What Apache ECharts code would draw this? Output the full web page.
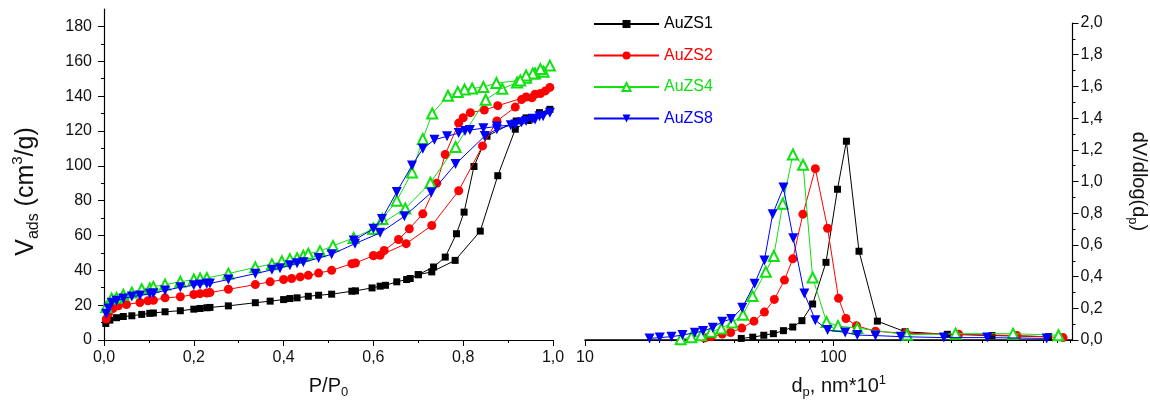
<!DOCTYPE html>
<html><head><meta charset="utf-8">
<script src="https://cdn.jsdelivr.net/npm/echarts@6/dist/echarts.min.js"></script>
<style>html,body{margin:0;padding:0;background:#fff}#c{width:1150px;height:404px}</style>
</head><body><div id="c"></div>
<script>
const seriesNames = ['AuZS1', 'AuZS2', 'AuZS4', 'AuZS8'];
const seriesColors = ['#000000', '#ff0000', '#11e011', '#0000ff'];

// Isotherms: [P/P0, Vads (cm3/g)] - adsorption branch then desorption branch
const auzs1Ads = [[0.004,9.5],[0.013,11.4],[0.028,12.8],[0.043,13.5],[0.062,13.9],[0.084,14.7],[0.102,15.3],[0.11,15.5],[0.136,16.2],[0.17,16.8],[0.2,17.7],[0.214,18.1],[0.229,18.5],[0.236,18.7],[0.277,19.6],[0.337,21.4],[0.37,22.3],[0.4,23.2],[0.414,23.8],[0.43,24.2],[0.455,25.1],[0.478,25.7],[0.507,26.3],[0.552,28],[0.56,28.2],[0.597,29.9],[0.615,30.9],[0.627,31.4],[0.652,33.4],[0.674,34.7],[0.682,35.3],[0.7,37.5],[0.73,39.1],[0.782,45.7],[0.838,62.5],[0.877,94.3],[0.916,121],[0.945,126],[0.97,129.5],[0.993,132.4]];
const auzs1Des = [[0.97,130.5],[0.94,127.5],[0.918,125.7],[0.853,117],[0.824,99.6],[0.802,73.4],[0.785,61],[0.76,47.6],[0.734,41.9],[0.7,37.5]];
const auzs2Ads = [[0.005,12],[0.01,15.2],[0.02,18.1],[0.032,19.6],[0.05,20.4],[0.08,21.5],[0.098,22.5],[0.11,22.8],[0.136,24.2],[0.17,24.8],[0.2,26.1],[0.214,26.6],[0.229,27],[0.236,27.2],[0.277,29.1],[0.337,31.8],[0.37,33.4],[0.4,34.7],[0.418,35.3],[0.437,36.2],[0.455,37.1],[0.478,38.4],[0.507,40],[0.552,43.8],[0.56,44.2],[0.6,48.4],[0.615,48.6],[0.673,55.3],[0.73,65.7],[0.79,85.7],[0.843,111.4],[0.875,125.7],[0.916,133.7],[0.93,138],[0.953,139],[0.972,141.5],[0.993,145]];
const auzs2Des = [[0.983,143],[0.96,141],[0.94,139.5],[0.877,134.5],[0.847,132],[0.816,130.5],[0.8,127.6],[0.79,124.5],[0.76,106.5],[0.741,90],[0.71,72.4],[0.68,63.8],[0.656,57.7],[0.624,51.4],[0.6,48.4]];
const auzs4Ads = [[0.005,19],[0.017,23.8],[0.028,24.2],[0.043,26],[0.062,27.2],[0.084,29.1],[0.102,29.6],[0.11,30.5],[0.136,31.8],[0.17,33.4],[0.2,34.7],[0.214,35.3],[0.229,35.6],[0.277,38.1],[0.337,41.7],[0.374,43.5],[0.396,45.2],[0.414,46.4],[0.43,47],[0.444,48.4],[0.455,49.5],[0.481,51],[0.51,54],[0.556,58.6],[0.6,63.8],[0.671,75.5],[0.727,90.3],[0.783,110.8],[0.85,137.9],[0.887,144.2],[0.92,147.8],[0.94,150.5],[0.96,153],[0.979,154],[0.993,157.5]];
const auzs4Des = [[0.972,155.5],[0.955,153],[0.94,151.8],[0.927,149],[0.874,147.5],[0.845,145.2],[0.82,144.4],[0.803,143.8],[0.788,142.3],[0.766,140.2],[0.731,130],[0.71,115.4],[0.686,96.2],[0.652,80],[0.62,69.5],[0.6,63.8]];
const auzs8Ads = [[0.005,15],[0.01,18.1],[0.017,21.4],[0.028,22.5],[0.043,23.8],[0.062,25],[0.08,25.5],[0.102,26.6],[0.11,26.8],[0.136,28.4],[0.17,30.3],[0.2,31.4],[0.214,31.9],[0.229,32.3],[0.236,32.5],[0.277,34.7],[0.337,38.1],[0.374,40.3],[0.392,41.2],[0.414,42.9],[0.43,44],[0.444,44.6],[0.478,47],[0.507,49.2],[0.559,55.3],[0.615,61.5],[0.669,71],[0.729,84.6],[0.783,101],[0.848,117.1],[0.875,121],[0.906,123.3],[0.93,125],[0.955,127],[0.97,128.5],[0.993,130.5]];
const auzs8Des = [[0.978,128.5],[0.96,126.5],[0.94,125.7],[0.916,123.7],[0.875,122.6],[0.845,121.6],[0.815,120.5],[0.804,120],[0.79,118.8],[0.764,116.9],[0.736,115],[0.71,109.8],[0.686,100.2],[0.652,85],[0.619,69.5],[0.6,63.8],[0.556,57.1]];

// Pore size distributions: [dp (nm*10^1), dV/dlog(dp)]
const auzs1Psd = [[42.6,0.01],[47.4,0.018],[52.5,0.03],[57.4,0.04],[63,0.059],[68.7,0.082],[74.8,0.122],[82.6,0.227],[93.5,0.49],[104,0.951],[113,1.254],[127,0.56],[150.6,0.119],[194.6,0.052],[288,0.036],[436,0.028],[737,0.021]];
const auzs2Psd = [[30.3,0.012],[32.3,0.021],[35.7,0.038],[38.6,0.047],[42.8,0.075],[47.9,0.119],[52.8,0.176],[57.9,0.256],[63.6,0.378],[68.7,0.512],[75.5,0.794],[84.7,1.081],[94.9,0.705],[105,0.263],[112.5,0.136],[124,0.09],[148,0.055],[196,0.042],[320,0.036],[550,0.028],[843,0.015]];
const auzs4Psd = [[24.3,0.005],[26.8,0.018],[29.4,0.03],[32.2,0.052],[35.4,0.073],[39.2,0.111],[43.3,0.159],[47.3,0.277],[53.5,0.43],[57.6,0.53],[62.6,0.86],[68.8,1.17],[75.6,1.105],[82.6,0.394],[94,0.113],[104.5,0.089],[125,0.075],[198,0.033],[311,0.04],[530,0.04],[808,0.03]];
const auzs8Psd = [[18.2,0.01],[20,0.015],[22.3,0.021],[24.7,0.031],[27.7,0.046],[29.9,0.056],[32.7,0.078],[35.7,0.115],[38.8,0.132],[43,0.203],[48.2,0.355],[52.8,0.502],[57,0.794],[63,0.962],[69,0.642],[76.5,0.293],[84.7,0.125],[94.9,0.063],[111.7,0.048],[125,0.031],[148,0.028],[187,0.021],[279,0.015],[417,0.015],[724,0.01]];

// Tick values
const pressureTicks = [0, 0.2, 0.4, 0.6, 0.8, 1.0];
const volumeTicks = [0, 20, 40, 60, 80, 100, 120, 140, 160, 180];
const volumeMinorTicks = [10, 30, 50, 70, 90, 110, 130, 150, 170];
const diameterTicks = [10, 100];
const diameterMinorTicks = [20, 30, 40, 50, 60, 70, 80, 90, 200, 300, 400, 500, 600, 700, 800, 900];
const dvTicks = [0, 0.2, 0.4, 0.6, 0.8, 1.0, 1.2, 1.4, 1.6, 1.8, 2.0];

const FONT = 'Liberation Sans, Arial, Helvetica, sans-serif';
const comma1 = v => Number(v).toFixed(1).replace('.', ',');

const isoSets = [auzs1Ads.concat(auzs1Des), auzs2Ads.concat(auzs2Des), auzs4Ads.concat(auzs4Des), auzs8Ads.concat(auzs8Des)];
const psdSets = [auzs1Psd, auzs2Psd, auzs4Psd, auzs8Psd];
const symbols = ['rect', 'circle', 'emptyTriangle', 'triangle'];
const symbolSizes = [7, 9, 10, 10];
const symbolRotates = [0, 0, 0, 180];

const series = [];
[0, 1].forEach(panel => {
  seriesNames.forEach((name, i) => {
    series.push({
      name: name,
      type: 'line',
      xAxisIndex: panel,
      yAxisIndex: panel,
      data: panel === 0 ? isoSets[i] : psdSets[i],
      symbol: symbols[i],
      symbolSize: symbolSizes[i],
      symbolRotate: symbolRotates[i],
      showAllSymbol: true,
      lineStyle: { color: seriesColors[i], width: 1 },
      itemStyle: { color: seriesColors[i], borderColor: seriesColors[i], borderWidth: i === 2 ? 1.2 : 0 },
      emphasis: { disabled: true },
      clip: false,
      z: 2 + i
    });
  });
});

const lineStyleAxis = { show: true, onZero: false, lineStyle: { color: '#000', width: 1.2 } };
const labelCommon = { color: '#111', fontSize: 16, fontFamily: FONT };

const chart = echarts.init(document.getElementById('c'), null, { renderer: 'canvas' });
chart.setOption({
  animation: false,
  backgroundColor: '#fff',
  grid: [
    { left: 104, right: 597, top: 9, bottom: 62 },
    { left: 585, right: 76, top: 23, bottom: 62 }
  ],
  legend: {
    orient: 'vertical',
    left: 593,
    top: 16,
    padding: 0,
    itemWidth: 65,
    itemHeight: 10,
    itemGap: 15.5,
    selectedMode: false,
    textStyle: { fontSize: 16, fontFamily: FONT },
    data: seriesNames.map((n, i) => ({ name: n, textStyle: { color: seriesColors[i] } }))
  },
  xAxis: [
    {
      type: 'value', gridIndex: 0, position: 'bottom', min: 0, max: 1, interval: 0.2,
      axisLine: lineStyleAxis, splitLine: { show: false },
      axisTick: { show: true, inside: false, length: 6, lineStyle: { color: '#000' } },
      minorTick: { show: true, splitNumber: 2, length: 3, lineStyle: { color: '#000' } },
      axisLabel: Object.assign({}, labelCommon, { margin: 10, formatter: comma1 }),
      name: 'P/P{sub|0}', nameLocation: 'middle', nameGap: 34,
      nameTextStyle: { color: '#111', fontFamily: FONT, fontSize: 20,
        rich: { sub: { fontSize: 13, fontFamily: FONT, color: '#111', verticalAlign: 'top', padding: [12, 0, 0, 0] } } }
    },
    {
      type: 'log', gridIndex: 1, position: 'bottom', min: 10, max: 920, logBase: 10,
      axisLine: { show: true, onZero: false, lineStyle: { color: '#000', width: 1.5 } }, splitLine: { show: false },
      axisTick: { show: true, inside: false, length: 6, customValues: diameterTicks, lineStyle: { color: '#000' } },
      axisLabel: Object.assign({}, labelCommon, { margin: 10, customValues: diameterTicks, formatter: v => String(Math.round(v)) }),
      name: 'd{sub|p}, nm*10{sup|1}', nameLocation: 'middle', nameGap: 34,
      nameTextStyle: { color: '#111', fontFamily: FONT, fontSize: 20, padding: [0, 0, 0, 20],
        rich: {
          sub: { fontSize: 13, fontFamily: FONT, color: '#111', verticalAlign: 'top', padding: [12, 0, 0, 0] },
          sup: { fontSize: 13, fontFamily: FONT, color: '#111', verticalAlign: 'top', padding: [0, 0, 12, 0] }
        } }
    },
    {
      type: 'log', gridIndex: 1, position: 'bottom', min: 10, max: 920, logBase: 10,
      axisLine: { show: true, onZero: false, lineStyle: { color: '#000', width: 1.2 } }, splitLine: { show: false }, axisLabel: { show: false },
      axisTick: { show: true, inside: false, length: 3, customValues: diameterMinorTicks, lineStyle: { color: '#000' } }
    }
  ],
  yAxis: [
    {
      type: 'value', gridIndex: 0, position: 'left', min: 0, max: 190,
      axisLine: lineStyleAxis, splitLine: { show: false },
      axisTick: { show: true, inside: false, length: 6, customValues: volumeTicks, lineStyle: { color: '#000' } },
      axisLabel: Object.assign({}, labelCommon, { margin: 12, customValues: volumeTicks }),
      name: 'V{sub|ads} (cm{sup|3}/g)', nameLocation: 'middle', nameRotate: 90, nameGap: 62,
      nameTextStyle: { color: '#111', fontFamily: FONT, fontSize: 25, padding: [0, 34, 0, 0],
        rich: {
          sub: { fontSize: 16, fontFamily: FONT, color: '#111', verticalAlign: 'top', padding: [16, 0, 0, 0] },
          sup: { fontSize: 15, fontFamily: FONT, color: '#111', verticalAlign: 'top', padding: [0, 0, 14, 0] }
        } }
    },
    {
      type: 'value', gridIndex: 1, position: 'right', min: 0, max: 2, interval: 0.2,
      axisLine: lineStyleAxis, splitLine: { show: false },
      axisTick: { show: true, inside: false, length: 6, lineStyle: { color: '#000' } },
      minorTick: { show: true, splitNumber: 2, length: 3, lineStyle: { color: '#000' } },
      axisLabel: Object.assign({}, labelCommon, { margin: 8, formatter: comma1 }),
      name: 'dV/dlog(d{sub|p})', nameLocation: 'middle', nameRotate: -90, nameGap: 54,
      nameTextStyle: { color: '#111', fontFamily: FONT, fontSize: 20,
        rich: { sub: { fontSize: 13, fontFamily: FONT, color: '#111', verticalAlign: 'top', padding: [12, 0, 0, 0] } } }
    },
    {
      type: 'value', gridIndex: 0, position: 'left', min: 0, max: 190,
      axisLine: { show: false, onZero: false }, splitLine: { show: false }, axisLabel: { show: false },
      axisTick: { show: true, inside: false, length: 3, customValues: volumeMinorTicks, lineStyle: { color: '#000' } }
    }
  ],
  series: series
});
</script></body></html>
